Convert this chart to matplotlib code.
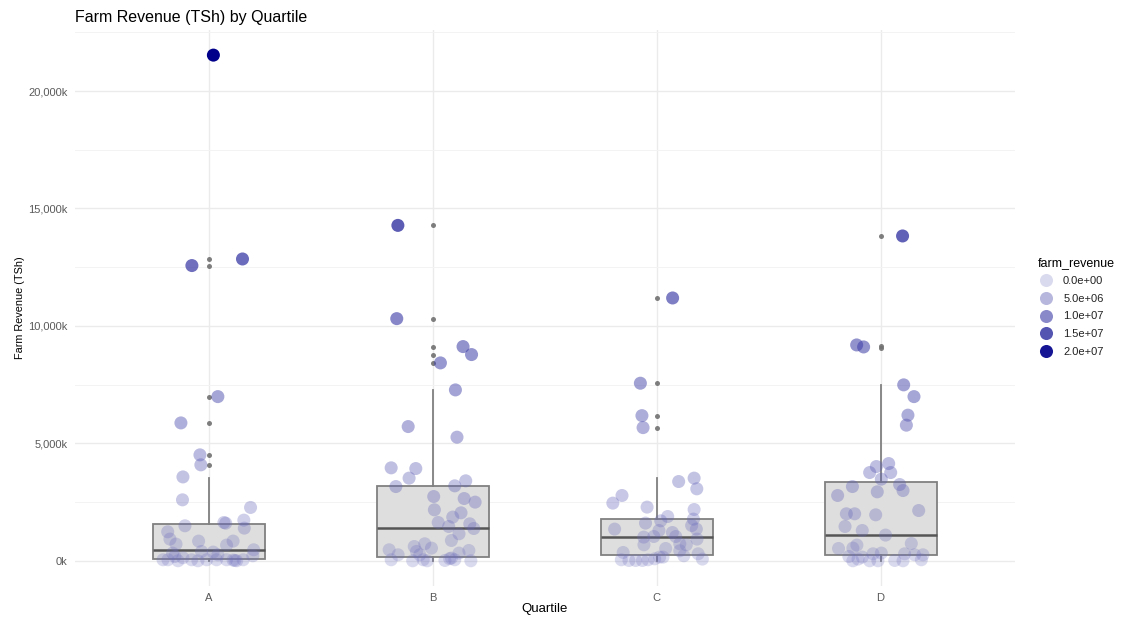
import numpy as np
import matplotlib.pyplot as plt
from matplotlib.colors import LinearSegmentedColormap
from matplotlib.lines import Line2D

plt.rcParams['font.family'] = ['Liberation Sans', 'DejaVu Sans']

# data, farm revenue in thousands of TSh
quartiles = ["A", "B", "C", "D"]

rev_a = [21530, 12570, 12850, 6990, 5870, 4510, 4085, 3570, 2595, 2270, 1730, 1390, 1630, 1600,
         1490, 1235, 923, 710, 838, 838, 668, 370, 255, 468, 213, 328, 183, 43, 0, 128, 43, 0,
         43, 43, 43, 13, 0, 30, 43, 43, 396]
jit_a = [0.02, -0.076, 0.15, 0.04, -0.125, -0.04, -0.036, -0.116, -0.118, 0.186, 0.156, 0.158, 0.067, 0.075,
         -0.107, -0.184, -0.174, -0.147, -0.046, 0.108, 0.079, 0.019, 0.04, 0.2, 0.196, -0.162, -0.152, -0.183, -0.138, -0.116, -0.077, -0.049,
         -0.01, 0.034, 0.079, 0.116, 0.124, 0.108, 0.153, -0.205, -0.033]

rev_b = [14280, 10310, 9120, 8780, 8425, 7275, 5715, 5263, 3957, 3927, 3519, 3161, 3404, 3191,
         2736, 2651, 2497, 2170, 2042, 1860, 1630, 1460, 1574, 1374, 1149, 864, 723, 608, 540, 396,
         468, 255, 438, 328, 43, 0, 43, 0, 13, 115, 90, 43, 0, 255]
jit_b = [-0.156, -0.161, 0.135, 0.173, 0.034, 0.101, -0.11, 0.108, -0.186, -0.076, -0.106, -0.165, 0.147, 0.098,
         0.004, 0.14, 0.189, 0.007, 0.126, 0.089, 0.024, 0.071, 0.165, 0.183, 0.117, 0.083, -0.036, -0.083, -0.006, -0.073,
         -0.195, -0.155, 0.161, 0.117, -0.186, -0.09, -0.043, -0.025, 0.054, 0.083, 0.075, 0.098, 0.17, -0.058]

rev_c = [11190, 7560, 6180, 5670, 3519, 3374, 3064, 2780, 2455, 2285, 2183, 1885, 1774, 1702,
         1604, 1502, 1349, 1349, 1289, 1204, 1008, 1034, 1034, 923, 681, 723, 681, 523, 426, 353,
         213, 298, 72, 157, 43, 13, 13, 13, 43, 85, 157]
jit_c = [0.071, -0.073, -0.066, -0.061, 0.167, 0.098, 0.179, -0.155, -0.196, -0.043, 0.167, 0.049, 0.164, 0.018,
         -0.05, 0.156, -0.188, 0.177, 0.01, 0.07, -0.058, -0.013, 0.085, 0.18, -0.057, 0.103, 0.132, 0.04, 0.103, -0.15,
         0.121, 0.185, 0.204, 0.013, -0.158, -0.124, -0.094, -0.064, -0.039, -0.009, 0.028]

rev_d = [13830, 9190, 9105, 7490, 6990, 6200, 5774, 4140, 4012, 3757, 3757, 3476, 3247, 3161,
         2991, 2936, 2780, 2140, 2000, 2000, 1957, 1460, 1289, 1094, 736, 523, 540, 668, 183, 157,
         298, 328, 298, 255, 255, 0, 0, 0, 13, 0, 43, 72]
jit_d = [0.098, -0.107, -0.076, 0.103, 0.149, 0.122, 0.115, 0.036, -0.019, -0.049, 0.045, 0.003, 0.085, -0.126,
         0.1, -0.015, -0.192, 0.17, -0.153, -0.116, -0.022, -0.159, -0.082, 0.022, 0.137, -0.188, -0.124, -0.106, -0.142, -0.082,
         -0.034, 0.003, 0.107, 0.152, 0.189, -0.124, -0.049, -0.012, 0.063, 0.1, 0.182, -0.101]

# box statistics
box_q1 = [72, 170, 255, 226]
box_med = [468, 1404, 1021, 1106]
box_q3 = [1574, 3205, 1774, 3349]
box_lo = [0, 0, 0, 0]
box_hi = [3545, 7275, 3519, 7490]
box_out = [[4085, 4510, 5870, 6990, 12570, 12850, 21530],
           [8425, 8780, 9120, 10310, 14280],
           [5670, 6180, 7560, 11190],
           [9080, 9150, 13830]]

legend_vals = [0, 5e6, 1e7, 1.5e7, 2e7]
legend_labels = ["0.0e+00", "5.0e+06", "1.0e+07", "1.5e+07", "2.0e+07"]

cmap = LinearSegmentedColormap.from_list("rev", ["#6e6ebe", "#00008b"])
vmax = 21530.0
a_min = 0.25


def point_colors(vals):
    t = np.clip(np.asarray(vals, dtype=float) / vmax, 0, 1)
    cols = cmap(t)
    cols[:, 3] = a_min + (1 - a_min) * t
    return cols


fig = plt.figure(figsize=(11.23, 6.17), dpi=100)
ax = fig.add_axes([0.0664, 0.0502, 0.8374, 0.9012])

stats = []
for i in range(4):
    stats.append(dict(q1=box_q1[i], med=box_med[i], q3=box_q3[i],
                      whislo=box_lo[i], whishi=box_hi[i], fliers=box_out[i]))
pos = np.arange(1, 5)
ax.bxp(stats, positions=pos, widths=0.5, patch_artist=True, showcaps=False,
       boxprops=dict(facecolor="#dedede", edgecolor="#808080", linewidth=1.3),
       medianprops=dict(color="#555555", linewidth=1.8),
       whiskerprops=dict(color="#808080", linewidth=1.3),
       flierprops=dict(marker="o", markersize=3.6, markerfacecolor="#707070",
                       markeredgecolor="none", alpha=0.9),
       zorder=2)

groups = [(rev_a, jit_a), (rev_b, jit_b), (rev_c, jit_c), (rev_d, jit_d)]
for i, (vals, jit) in enumerate(groups):
    x = pos[i] + np.asarray(jit)
    ax.scatter(x, vals, s=88, c=point_colors(vals), linewidths=0, zorder=3)

ax.set_xlim(0.4, 4.6)
ax.set_ylim(-1075, 22600)
ax.set_xticks(pos)
ax.set_xticklabels(quartiles)
ax.set_yticks([0, 5000, 10000, 15000, 20000])
ax.set_yticklabels(["0k", "5,000k", "10,000k", "15,000k", "20,000k"])
ax.set_yticks([2500, 7500, 12500, 17500, 22500], minor=True)
ax.grid(True, which="major", color="#ebebeb", linewidth=1.0, zorder=0)
ax.grid(True, which="minor", axis="y", color="#f3f3f3", linewidth=0.7, zorder=0)
ax.set_axisbelow(True)
for s in ax.spines.values():
    s.set_visible(False)
ax.tick_params(axis="both", which="both", length=0, labelsize=8, labelcolor="#5a5a5a")
ax.tick_params(axis="y", pad=5)
ax.tick_params(axis="x", pad=5)

ax.set_xlabel("Quartile", fontsize=9.5, labelpad=0)
ax.set_ylabel("Farm Revenue (TSh)", fontsize=7.8, labelpad=2)
fig.text(0.0664, 0.972, "Farm Revenue (TSh) by Quartile", fontsize=11.5, ha="left", va="center")

handles = []
for v in legend_vals:
    c = point_colors([v / 1000.0])[0]
    handles.append(Line2D([], [], linestyle="none", marker="o", markersize=9.4,
                          markerfacecolor=c, markeredgecolor="none"))
leg = fig.legend(handles, legend_labels, title="farm_revenue", loc="upper left",
                 bbox_to_anchor=(0.915, 0.6), frameon=False, fontsize=8,
                 title_fontsize=9, labelspacing=0.68, handletextpad=0.7,
                 handlelength=1.6, alignment="left")
for t in leg.get_texts():
    t.set_color("#222222")

fig.savefig("out.png", dpi=100, facecolor="white")
